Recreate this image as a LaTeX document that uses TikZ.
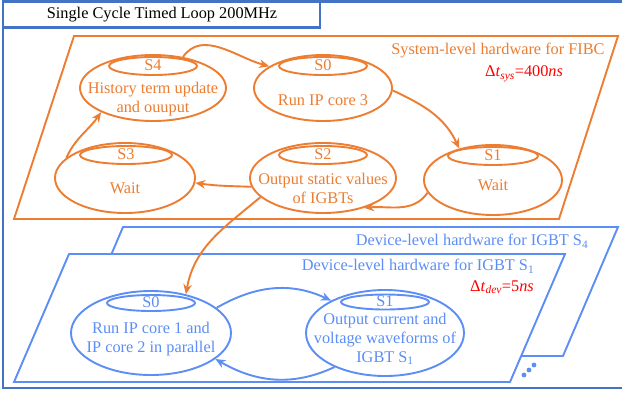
\documentclass[tikz,border=0pt]{standalone}
\usepackage{fontspec}
\setmainfont{Liberation Serif}
\usetikzlibrary{shapes.geometric,arrows.meta}
\definecolor{orng}{RGB}{237,125,49}
\definecolor{dblue}{RGB}{68,114,196}
\definecolor{lblue}{RGB}{92,142,245}
\definecolor{rd}{RGB}{255,0,0}
\tikzset{
  bigell/.style={ellipse, draw, line width=1.9pt, inner sep=0pt},
  smallell/.style={ellipse, draw, line width=1.9pt, inner sep=0pt, minimum width=88pt, minimum height=18pt},
  txt/.style={inner sep=0pt, align=center, font=\fontsize{16.3}{19}\selectfont},
  conn/.style={line width=1.9pt, -{Stealth[length=10pt,width=8.5pt]}},
  para/.style={line width=1.9pt, line join=miter},
}
\begin{document}
\begin{tikzpicture}[x=1pt,y=-1pt]
\useasboundingbox (0,0) rectangle (622,394);
% outer frame
\draw[dblue, line width=2.6pt] (626,1.5) -- (3,1.5) -- (3,388) -- (626,388);
\draw[dblue, line width=2.6pt] (3,1.5) rectangle (320,27.5);
\node[txt, text=black] (title) at (162,15) {Single Cycle Timed Loop 200MHz};

% system-level parallelogram
\draw[para, draw=orng, fill=white] (74,36) -- (618,36) -- (559,219) -- (14,219) -- cycle;
\node[txt, text=orng] (systxt) at (498,51) {System-level hardware for FIBC};
\node[txt, text=rd] (dtsys) at (524,74) {Δ\textit{t}\textsubscript{\textit{sys}}=400\textit{ns}};

% orange states
\begin{scope}[orng, text=orng]
\node[bigell, minimum width=146pt, minimum height=66pt] (s4) at (153,88) {};
\node[smallell] (s4h) at (153,66) {};
\node[txt] (s4l) at (153,65) {S4};
\node[txt] (s4t) at (153,99) {History term update\\and ouuput};

\node[bigell, minimum width=138pt, minimum height=66pt] (s0) at (323,88) {};
\node[smallell] (s0h) at (323,66) {};
\node[txt] (s0l) at (323,65) {S0};
\node[txt] (s0t) at (323,100) {Run IP core 3};

\node[bigell, minimum width=140pt, minimum height=70pt] (s3) at (125,178) {};
\node[smallell, minimum width=92pt] (s3h) at (126,155) {};
\node[txt] (s3l) at (126,154) {S3};
\node[txt] (s3t) at (125,188) {Wait};

\node[bigell, minimum width=146pt, minimum height=70pt] (s2) at (323,178) {};
\node[smallell] (s2h) at (323,155) {};
\node[txt] (s2l) at (323,154) {S2};
\node[txt] (s2t) at (323,188) {Output static values\\of IGBTs};

\node[bigell, minimum width=138pt, minimum height=70pt] (s1) at (493,180) {};
\node[smallell, minimum width=90pt] (s1h) at (493,156) {};
\node[txt] (s1l) at (493,155) {S1};
\node[txt] (s1t) at (493,185) {Wait};

\draw[conn] (s4.46) to[out=55, in=165] (s0.158);
\draw[conn] (s0.-2) to[out=-25, in=115] (s1.137);
\draw[conn] (s1.191) to[out=235, in=5] (s2.-36);
\draw[conn] (s2.187) to[out=178, in=-8] (s3.-4);
\draw[conn] (s3.161) to[out=65, in=235] (s4.205);
\end{scope}

% device-level parallelograms
\draw[para, draw=lblue, fill=white] (123,227) -- (618,227) -- (563,356) -- (68,356) -- cycle;
\node[txt, text=lblue] (dev4) at (472,241) {Device-level hardware for IGBT S\textsubscript{4}};
\draw[para, draw=lblue, fill=white] (69,254) -- (565,254) -- (510,382) -- (14,382) -- cycle;
\node[txt, text=lblue] (dev1) at (418,266) {Device-level hardware for IGBT S\textsubscript{1}};
\node[txt, text=rd] (dtdev) at (502,287) {Δ\textit{t}\textsubscript{\textit{dev}}=5\textit{ns}};

\begin{scope}[lblue, text=lblue]
\node[bigell, minimum width=160pt, minimum height=84pt] (d0) at (151,333) {};
\node[smallell, minimum height=16pt] (d0h) at (151,303) {};
\node[txt] (d0l) at (151,302) {S0};
\node[txt] (d0t) at (151,339) {Run IP core 1 and\\IP core 2 in parallel};

\node[bigell, minimum width=158pt, minimum height=86pt] (d1) at (385,333) {};
\node[smallell, minimum height=15pt] (d1h) at (385,302) {};
\node[txt] (d1l) at (385,301) {S1};
\node[txt] (d1t) at (385,339) {Output current and\\voltage waveforms of\\IGBT S\textsubscript{1}};

\draw[conn] (d0.21) to[out=30, in=155] (d1.149);
\draw[conn] (d1.214) to[out=205, in=-30] (d0.-22);
\fill (524,375) circle (2.4);
\fill (529,370) circle (2.4);
\fill (534,365) circle (2.4);
\end{scope}

% cross-level arrow
\draw[conn, orng] (s2.197) to[out=220, in=80] (d0.48);
\end{tikzpicture}
\end{document}
